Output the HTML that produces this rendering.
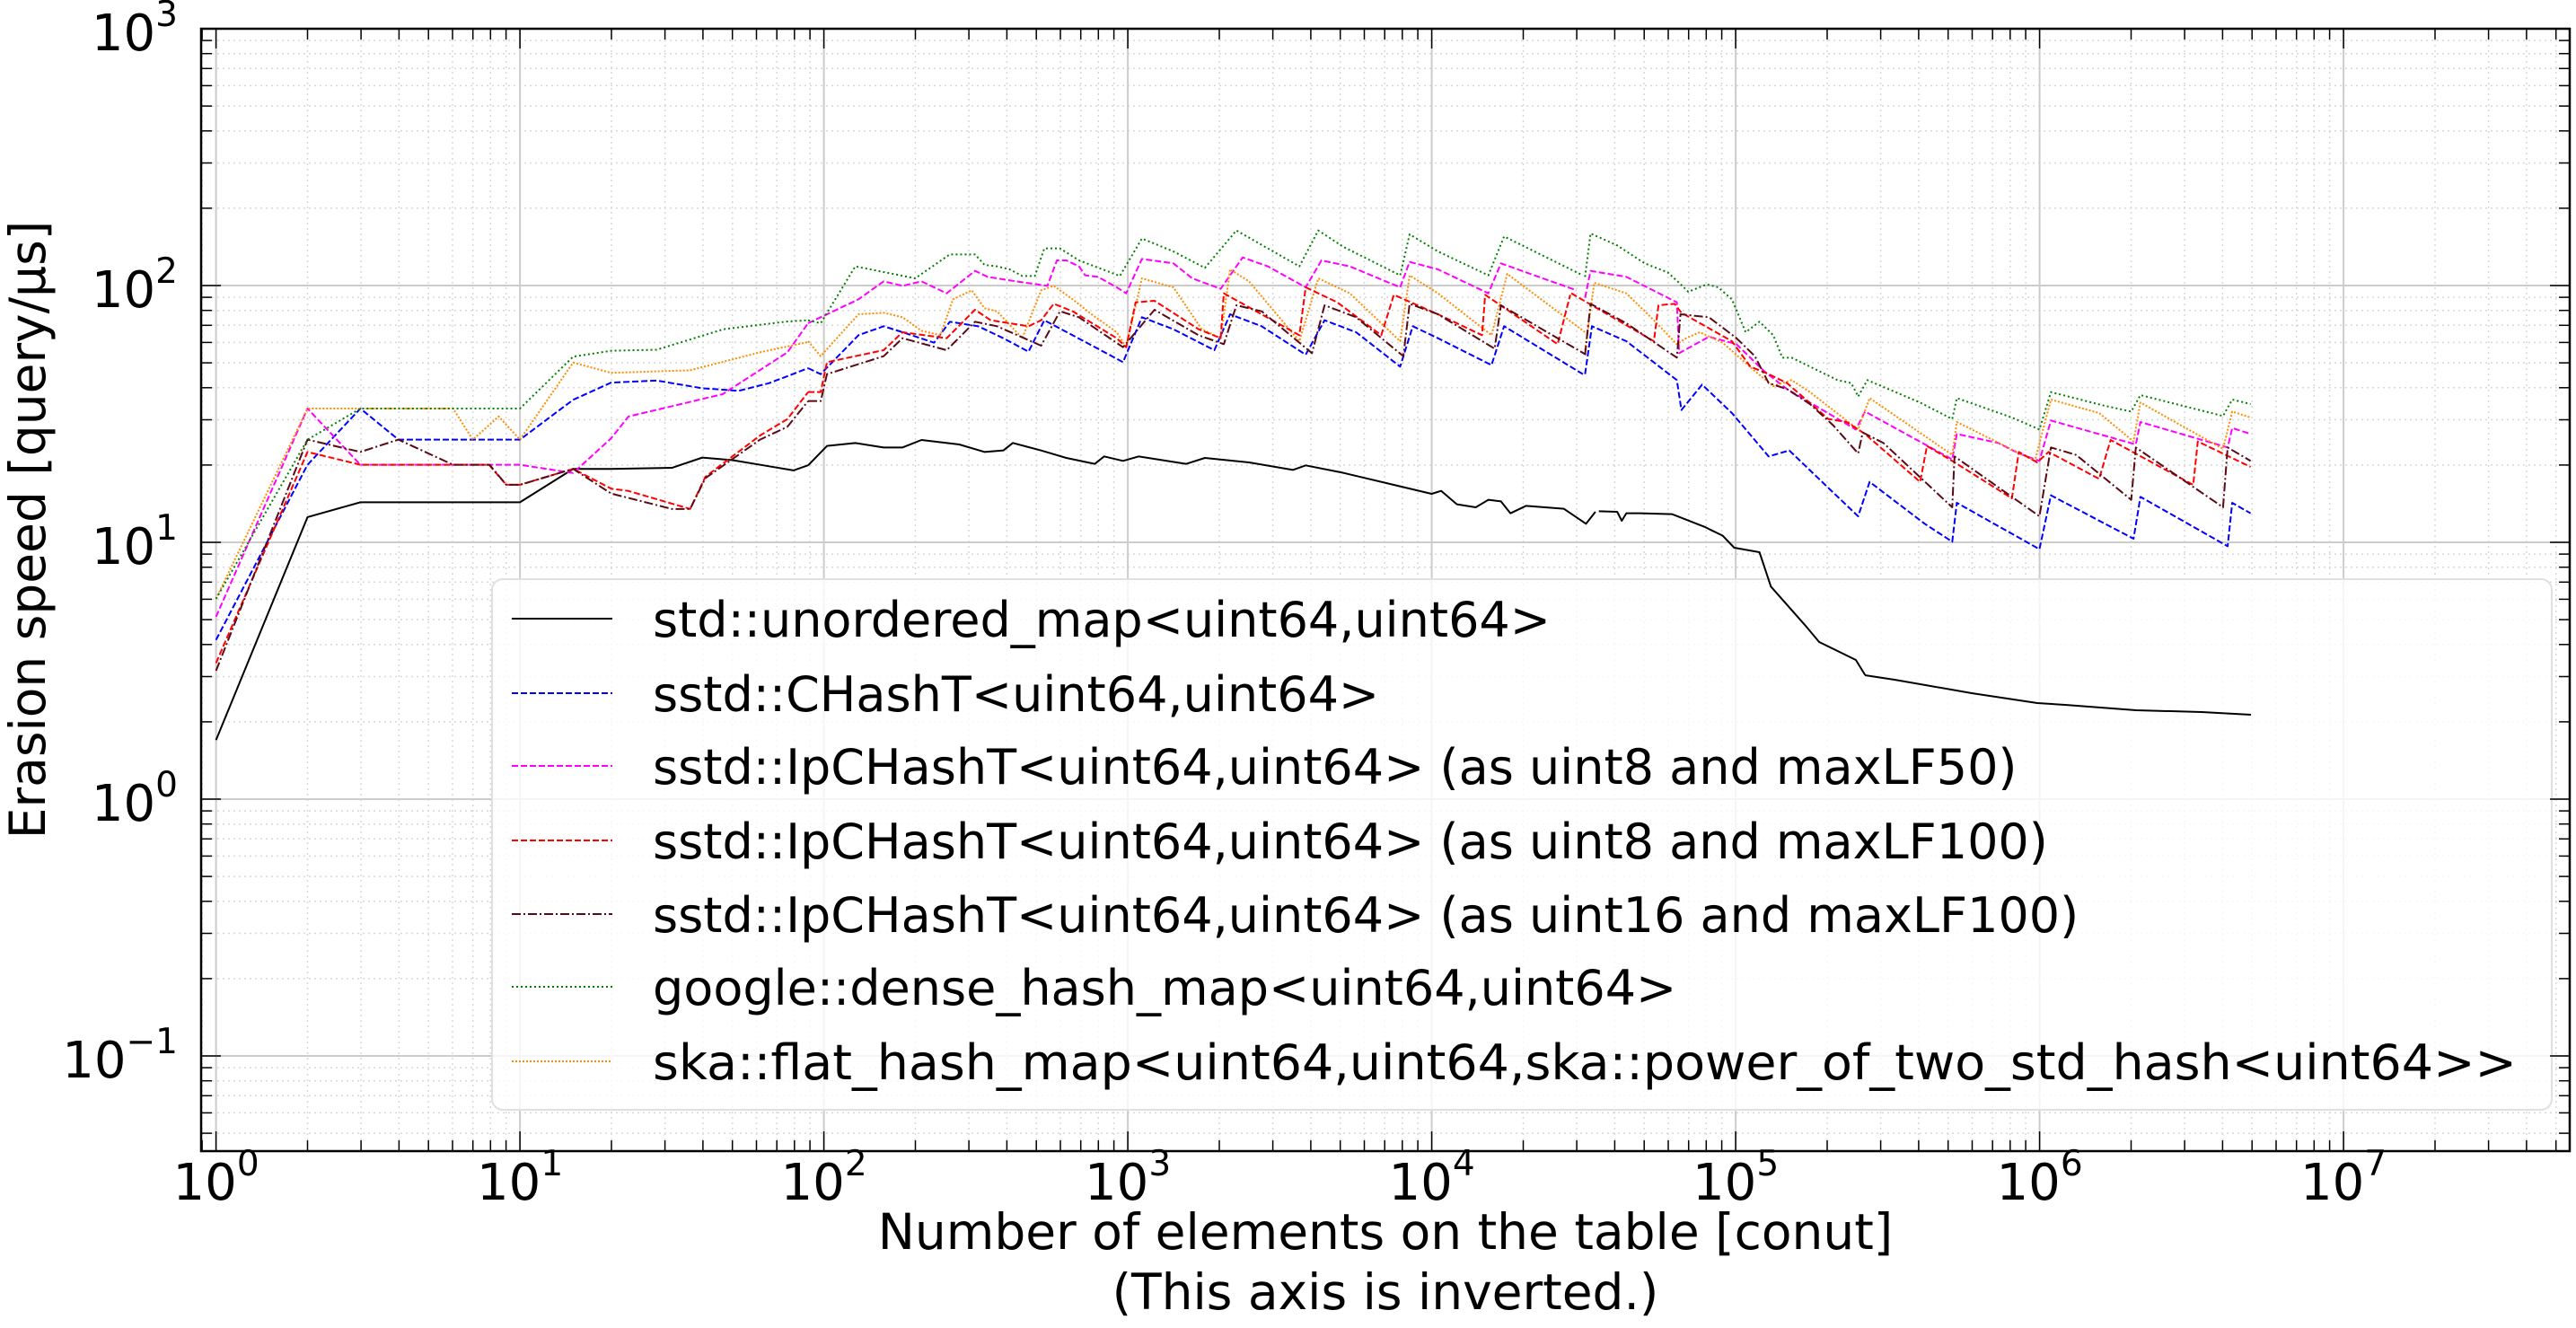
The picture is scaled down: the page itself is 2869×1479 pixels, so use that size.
<!DOCTYPE html>
<html><head><meta charset="utf-8"><style>html,body{margin:0;padding:0;background:#fff}svg{display:block}</style></head>
<body>
<svg width="2869" height="1479" viewBox="0 0 2869 1479" xmlns="http://www.w3.org/2000/svg" font-family="'DejaVu Sans','Liberation Sans',sans-serif">
<defs>
<clipPath id="pc"><rect x="224" y="32" width="2638" height="1250"/></clipPath>
<g id="xm">
<line x1="101.9" y1="32" x2="101.9" y2="1282"/><line x1="161.5" y1="32" x2="161.5" y2="1282"/><line x1="203.8" y1="32" x2="203.8" y2="1282"/><line x1="236.6" y1="32" x2="236.6" y2="1282"/><line x1="263.4" y1="32" x2="263.4" y2="1282"/><line x1="286.1" y1="32" x2="286.1" y2="1282"/><line x1="305.7" y1="32" x2="305.7" y2="1282"/><line x1="323.0" y1="32" x2="323.0" y2="1282"/>
</g>
<g id="xt">
<line x1="101.9" y1="1282" x2="101.9" y2="1270"/><line x1="161.5" y1="1282" x2="161.5" y2="1270"/><line x1="203.8" y1="1282" x2="203.8" y2="1270"/><line x1="236.6" y1="1282" x2="236.6" y2="1270"/><line x1="263.4" y1="1282" x2="263.4" y2="1270"/><line x1="286.1" y1="1282" x2="286.1" y2="1270"/><line x1="305.7" y1="1282" x2="305.7" y2="1270"/><line x1="323.0" y1="1282" x2="323.0" y2="1270"/>
<line x1="101.9" y1="32" x2="101.9" y2="44"/><line x1="161.5" y1="32" x2="161.5" y2="44"/><line x1="203.8" y1="32" x2="203.8" y2="44"/><line x1="236.6" y1="32" x2="236.6" y2="44"/><line x1="263.4" y1="32" x2="263.4" y2="44"/><line x1="286.1" y1="32" x2="286.1" y2="44"/><line x1="305.7" y1="32" x2="305.7" y2="44"/><line x1="323.0" y1="32" x2="323.0" y2="44"/>
<line x1="0" y1="1282" x2="0" y2="1260"/><line x1="0" y1="32" x2="0" y2="54"/>
</g>
<g id="ym">
<line y1="-86.1" x1="224" y2="-86.1" x2="2862"/><line y1="-136.5" x1="224" y2="-136.5" x2="2862"/><line y1="-172.2" x1="224" y2="-172.2" x2="2862"/><line y1="-199.9" x1="224" y2="-199.9" x2="2862"/><line y1="-222.6" x1="224" y2="-222.6" x2="2862"/><line y1="-241.7" x1="224" y2="-241.7" x2="2862"/><line y1="-258.3" x1="224" y2="-258.3" x2="2862"/><line y1="-272.9" x1="224" y2="-272.9" x2="2862"/>
</g>
<g id="yt">
<line y1="-86.1" x1="224" y2="-86.1" x2="236"/><line y1="-136.5" x1="224" y2="-136.5" x2="236"/><line y1="-172.2" x1="224" y2="-172.2" x2="236"/><line y1="-199.9" x1="224" y2="-199.9" x2="236"/><line y1="-222.6" x1="224" y2="-222.6" x2="236"/><line y1="-241.7" x1="224" y2="-241.7" x2="236"/><line y1="-258.3" x1="224" y2="-258.3" x2="236"/><line y1="-272.9" x1="224" y2="-272.9" x2="236"/>
<line y1="-86.1" x1="2862" y2="-86.1" x2="2850"/><line y1="-136.5" x1="2862" y2="-136.5" x2="2850"/><line y1="-172.2" x1="2862" y2="-172.2" x2="2850"/><line y1="-199.9" x1="2862" y2="-199.9" x2="2850"/><line y1="-222.6" x1="2862" y2="-222.6" x2="2850"/><line y1="-241.7" x1="2862" y2="-241.7" x2="2850"/><line y1="-258.3" x1="2862" y2="-258.3" x2="2850"/><line y1="-272.9" x1="2862" y2="-272.9" x2="2850"/>
<line y1="0" x1="224" y2="0" x2="246"/><line y1="0" x1="2862" y2="0" x2="2840"/>
</g>
</defs>

<g clip-path="url(#pc)">
<g stroke="#d8d8d8" stroke-width="1.5" stroke-dasharray="2,4">
<use href="#xm" x="-97.9"/><use href="#xm" x="240.6"/><use href="#xm" x="579.1"/><use href="#xm" x="917.6"/><use href="#xm" x="1256.1"/><use href="#xm" x="1594.6"/><use href="#xm" x="1933.1"/><use href="#xm" x="2271.6"/><use href="#xm" x="2610.1"/>
<use href="#ym" y="1462"/><use href="#ym" y="1176"/><use href="#ym" y="890"/><use href="#ym" y="604"/><use href="#ym" y="318"/>
</g>
<g stroke="#cccccc" stroke-width="2">
<line x1="240.6" y1="32" x2="240.6" y2="1282"/><line x1="579.1" y1="32" x2="579.1" y2="1282"/><line x1="917.6" y1="32" x2="917.6" y2="1282"/><line x1="1256.1" y1="32" x2="1256.1" y2="1282"/><line x1="1594.6" y1="32" x2="1594.6" y2="1282"/><line x1="1933.1" y1="32" x2="1933.1" y2="1282"/><line x1="2271.6" y1="32" x2="2271.6" y2="1282"/><line x1="2610.1" y1="32" x2="2610.1" y2="1282"/>
<line x1="224" y1="1176" x2="2862" y2="1176"/><line x1="224" y1="890" x2="2862" y2="890"/><line x1="224" y1="604" x2="2862" y2="604"/><line x1="224" y1="318" x2="2862" y2="318"/>
</g>

<!-- legend box (behind lines) -->
<rect x="548" y="645" width="2294" height="591" rx="12" fill="#fff" fill-opacity="0.8" stroke="#e0e0e0" stroke-width="2"/>

<g fill="none" stroke-width="2" stroke-linejoin="round">
<g stroke="#000">
<polyline vector-effect="non-scaling-stroke" transform="matrix(338.5,0,0,-286,240.6,890)" points="0,0.23 0.301,1.098 0.475,1.156 1,1.156 1.175,1.286 1.3,1.286 1.5,1.29 1.6,1.33 1.7,1.32 1.8,1.3 1.9,1.28 1.948,1.3"/>
<polyline vector-effect="non-scaling-stroke" transform="matrix(0.70151,0,0,0.33333,900,200)" points="0,955 30,890 75,880 120,895 150,895 180,870 240,885 280,910 310,905 325,880 370,905 410,930 455,950 470,925 500,940 525,925 600,950 630,930 700,945 770,970 790,955 850,980 930,1020 990,1050 1005,1040 1030,1085 1060,1095 1080,1070 1100,1075 1115,1115 1140,1090 1200,1100 1235,1150 1250,1110"/>
<polyline vector-effect="non-scaling-stroke" transform="matrix(0.5112,0,0,0.33333,1750,250)" points="60,958 100,960 110,990 120,965 150,965 220,968 290,1010 330,1040 355,1080 410,1095 435,1210 510,1340 540,1395 620,1455 640,1505"/>
<polyline points="2077,752 2110,757 2196,772 2269,783 2300,785 2379,791 2452,793 2507,796"/>
</g>
<g stroke="#0000ff" stroke-dasharray="7,3">
<polyline vector-effect="non-scaling-stroke" transform="matrix(338.5,0,0,-286,240.6,890)" points="0,0.62 0.301,1.302 0.475,1.521 0.6,1.4 1,1.4 1.175,1.555 1.3,1.622 1.45,1.63 1.6,1.6 1.72,1.59 1.82,1.62 1.948,1.678"/>
<polyline vector-effect="non-scaling-stroke" transform="matrix(0.70151,0,0,0.33333,900,200)" points="0,630 20,650 80,520 120,490 150,510 200,545 225,475 270,490 310,530 350,575 375,470 420,520 500,610 530,460 580,500 645,570 670,450 720,490 790,585 820,470 870,510 940,625 960,490 1000,530 1085,620 1105,490 1230,650"/>
<polyline vector-effect="non-scaling-stroke" transform="matrix(0.5112,0,0,0.33333,1750,250)" points="30,500 45,340 120,390 230,520 240,620 285,535 350,630 430,775 475,755 560,880 625,975 650,860 770,1000 830,1060 840,930 1020,1085 1045,905 1225,1050 1240,910 1430,1075 1440,930 1480,965"/>
</g>
<g stroke="#ff00ff" stroke-dasharray="7,3">
<polyline vector-effect="non-scaling-stroke" transform="matrix(338.5,0,0,-286,240.6,890)" points="0,0.71 0.301,1.521 0.475,1.302 1,1.302 1.175,1.27 1.3,1.405 1.357,1.49 1.667,1.577 1.88,1.74 1.948,1.853"/>
<polyline vector-effect="non-scaling-stroke" transform="matrix(0.70151,0,0,0.33333,900,200)" points="0,480 40,440 80,400 120,340 150,355 180,340 220,380 265,305 285,325 330,340 380,355 395,270 410,270 430,290 440,320 460,325 490,360 505,380 530,265 580,280 610,330 655,365 690,260 730,290 790,360 815,270 860,290 940,360 955,275 1000,300 1080,380 1100,280 1220,370"/>
<polyline vector-effect="non-scaling-stroke" transform="matrix(0.5112,0,0,0.33333,1750,250)" points="30,245 42,155 120,175 230,260 235,430 300,375 360,400 420,490 470,550 620,685 640,625 830,785 840,700 930,730 975,765 1020,790 1045,655 1230,735 1240,660 1430,745 1440,680 1480,700"/>
</g>
<g stroke="#ff8c00" stroke-dasharray="2,2">
<polyline vector-effect="non-scaling-stroke" transform="matrix(338.5,0,0,-286,240.6,890)" points="0,0.78 0.301,1.521 0.78,1.521 0.845,1.4 0.93,1.49 1,1.4 1.175,1.7 1.3,1.66 1.56,1.67 1.79,1.74 1.948,1.78"/>
<polyline vector-effect="non-scaling-stroke" transform="matrix(0.70151,0,0,0.33333,900,200)" points="0,540 20,590 80,450 120,445 150,460 180,505 210,520 230,400 260,370 280,430 300,440 340,530 370,370 390,355 420,400 450,450 490,510 505,560 530,330 580,360 625,500 655,530 670,300 700,340 780,540 810,330 860,380 940,540 955,320 1000,380 1085,520 1110,315 1240,520"/>
<polyline vector-effect="non-scaling-stroke" transform="matrix(0.5112,0,0,0.33333,1750,250)" points="30,420 50,195 120,230 180,320 230,400 250,380 280,360 330,395 400,490 440,540 480,520 520,560 625,685 650,580 830,770 840,660 1010,790 1045,585 1150,630 1225,725 1240,595 1420,750 1440,625 1480,645"/>
</g>
<g stroke="#ff0000" stroke-dasharray="7,3">
<polyline vector-effect="non-scaling-stroke" transform="matrix(338.5,0,0,-286,240.6,890)" points="0,0.53 0.301,1.352 0.475,1.302 0.898,1.302 0.955,1.224 1,1.224 1.175,1.286 1.3,1.209 1.357,1.2 1.56,1.13 1.61,1.255 1.79,1.416 1.88,1.48 1.948,1.585"/>
<polyline vector-effect="non-scaling-stroke" transform="matrix(0.70151,0,0,0.33333,900,200)" points="0,710 20,710 30,610 120,570 150,510 220,530 265,435 290,470 320,480 350,490 370,470 390,415 420,440 490,530 505,560 520,410 550,405 620,500 655,530 660,380 720,450 780,520 790,360 840,410 910,520 930,385 1000,450 1070,520 1075,385 1190,550 1210,385"/>
<polyline vector-effect="non-scaling-stroke" transform="matrix(0.5112,0,0,0.33333,1750,250)" points="0,230 180,390 190,270 225,265 240,295 350,390 390,475 430,500 470,530 560,650 600,660 640,700 760,860 775,740 830,790 960,915 975,760 1015,795 1040,760 1150,850 1175,720 1355,870 1365,725 1480,810"/>
</g>
<g stroke="#5a0a14" stroke-dasharray="10,3,2,3">
<polyline vector-effect="non-scaling-stroke" transform="matrix(338.5,0,0,-286,240.6,890)" points="0,0.5 0.301,1.4 0.475,1.352 0.6,1.4 0.78,1.302 0.9,1.302 0.955,1.224 1,1.224 1.175,1.286 1.3,1.19 1.5,1.13 1.56,1.13 1.61,1.25 1.79,1.4 1.88,1.45 1.948,1.55"/>
<polyline vector-effect="non-scaling-stroke" transform="matrix(0.70151,0,0,0.33333,900,200)" points="0,740 20,740 30,650 120,590 150,530 220,570 265,475 300,490 370,555 400,440 430,460 500,560 550,435 620,520 660,550 680,420 720,440 800,580 820,420 870,460 945,590 955,415 1000,450 1090,565 1100,420 1235,585"/>
<polyline vector-effect="non-scaling-stroke" transform="matrix(0.5112,0,0,0.33333,1750,250)" points="30,435 42,265 120,330 230,445 238,300 300,310 360,380 400,440 430,530 470,550 520,600 570,670 625,765 635,695 680,730 830,945 835,775 1020,975 1045,745 1100,770 1220,920 1230,745 1420,945 1430,745 1480,790"/>
</g>
<g stroke="#008000" stroke-dasharray="2,3">
<polyline vector-effect="non-scaling-stroke" transform="matrix(338.5,0,0,-286,240.6,890)" points="0,0.78 0.301,1.4 0.475,1.521 1,1.521 1.175,1.723 1.3,1.746 1.45,1.75 1.67,1.83 1.88,1.86 1.948,1.865"/>
<polyline vector-effect="non-scaling-stroke" transform="matrix(0.70151,0,0,0.33333,900,200)" points="0,470 20,480 75,290 170,330 225,250 265,250 280,285 300,290 320,300 340,322 360,322 375,230 400,230 430,270 495,322 530,197 580,240 630,295 680,170 780,290 810,170 850,225 940,320 955,183 1000,240 1080,320 1105,190 1230,320"/>
<polyline vector-effect="non-scaling-stroke" transform="matrix(0.5112,0,0,0.33333,1750,250)" points="30,175 42,30 100,70 160,130 210,160 235,195 255,225 295,200 320,210 350,250 380,360 410,325 440,370 460,445 480,445 580,520 610,530 625,575 645,520 760,595 830,650 840,580 960,645 1020,685 1045,560 1160,605 1220,625 1240,570 1420,640 1440,585 1480,600"/>
</g>
</g>
</g>

<g stroke="#000" stroke-width="1.5">
<g clip-path="url(#pc)">
<use href="#xt" x="-97.9"/><use href="#xt" x="240.6"/><use href="#xt" x="579.1"/><use href="#xt" x="917.6"/><use href="#xt" x="1256.1"/><use href="#xt" x="1594.6"/><use href="#xt" x="1933.1"/><use href="#xt" x="2271.6"/><use href="#xt" x="2610.1"/>
<use href="#yt" y="1462"/><use href="#yt" y="1176"/><use href="#yt" y="890"/><use href="#yt" y="604"/><use href="#yt" y="318"/><use href="#yt" y="32"/>
</g>
</g>

<g stroke-width="2">
<line x1="570" y1="689" x2="682" y2="689" stroke="#000"/>
<line x1="570" y1="772" x2="682" y2="772" stroke="#0000ff" stroke-dasharray="7,3"/>
<line x1="570" y1="853" x2="682" y2="853" stroke="#ff00ff" stroke-dasharray="7,3"/>
<line x1="570" y1="936" x2="682" y2="936" stroke="#ff0000" stroke-dasharray="7,3"/>
<line x1="570" y1="1018" x2="682" y2="1018" stroke="#5a0a14" stroke-dasharray="10,3,2,3"/>
<line x1="570" y1="1099" x2="682" y2="1099" stroke="#008000" stroke-dasharray="2,3"/>
<line x1="570" y1="1182" x2="682" y2="1182" stroke="#ff8c00" stroke-dasharray="2,2"/>
</g>
<g font-size="54" fill="#000">
<text x="727" y="709">std::unordered_map&lt;uint64,uint64&gt;</text>
<text x="727" y="792">sstd::CHashT&lt;uint64,uint64&gt;</text>
<text x="727" y="873">sstd::IpCHashT&lt;uint64,uint64&gt; (as uint8 and maxLF50)</text>
<text x="727" y="956">sstd::IpCHashT&lt;uint64,uint64&gt; (as uint8 and maxLF100)</text>
<text x="727" y="1038">sstd::IpCHashT&lt;uint64,uint64&gt; (as uint16 and maxLF100)</text>
<text x="727" y="1119">google::dense_hash_map&lt;uint64,uint64&gt;</text>
<text x="727" y="1202" textLength="2076" lengthAdjust="spacingAndGlyphs">ska::flat_hash_map&lt;uint64,uint64,ska::power_of_two_std_hash&lt;uint64&gt;&gt;</text>
</g>

<rect x="224" y="32" width="2638" height="1250" fill="none" stroke="#000" stroke-width="2.5"/>

<g font-size="56" fill="#000" text-anchor="middle">
<text x="240.6" y="1336">10<tspan font-size="39" dy="-27">0</tspan></text>
<text x="579.1" y="1336">10<tspan font-size="39" dy="-27">1</tspan></text>
<text x="917.6" y="1336">10<tspan font-size="39" dy="-27">2</tspan></text>
<text x="1256.1" y="1336">10<tspan font-size="39" dy="-27">3</tspan></text>
<text x="1594.6" y="1336">10<tspan font-size="39" dy="-27">4</tspan></text>
<text x="1933.1" y="1336">10<tspan font-size="39" dy="-27">5</tspan></text>
<text x="2271.6" y="1336">10<tspan font-size="39" dy="-27">6</tspan></text>
<text x="2610.1" y="1336">10<tspan font-size="39" dy="-27">7</tspan></text>
</g>
<g font-size="56" fill="#000" text-anchor="end">
<text x="198" y="56">10<tspan font-size="39" dy="-27">3</tspan></text>
<text x="198" y="342">10<tspan font-size="39" dy="-27">2</tspan></text>
<text x="198" y="628">10<tspan font-size="39" dy="-27">1</tspan></text>
<text x="198" y="914">10<tspan font-size="39" dy="-27">0</tspan></text>
<text x="198" y="1200">10<tspan font-size="39" dy="-27">−1</tspan></text>
</g>

<g font-size="55" fill="#000" text-anchor="middle">
<text x="1543" y="1391">Number of elements on the table [conut]</text>
<text x="1543" y="1458">(This axis is inverted.)</text>
<text transform="translate(50,590) rotate(-90)" x="0" y="0">Erasion speed [query/µs]</text>
</g>
</svg>
</body></html>
